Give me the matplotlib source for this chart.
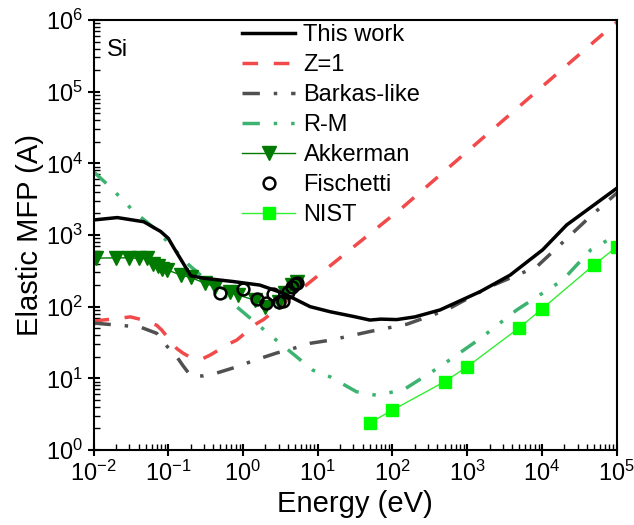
import matplotlib
matplotlib.use("Agg")
import matplotlib.pyplot as plt
from matplotlib.ticker import FixedLocator, NullFormatter, LogFormatterSciNotation

plt.rcParams['font.family'] = ['Liberation Sans', 'DejaVu Sans']
plt.rcParams['mathtext.fontset'] = 'custom'
plt.rcParams['mathtext.rm'] = 'Liberation Sans'

# This work
this_E = [0.01, 0.0208, 0.047, 0.079, 0.1, 0.12, 0.2, 0.3, 0.74, 1.68, 3.5, 7.9, 14.6, 30, 50, 70, 114, 200, 433, 1490, 3740, 10200, 21400, 100000]
this_y = [1620, 1750, 1530, 1120, 900, 650, 270, 249, 224, 200, 153, 100, 85, 73, 65, 67, 66, 72, 90, 162, 275, 620, 1380, 4480]

# Z=1
z1_E = [0.01, 0.02, 0.031, 0.05, 0.07, 0.082, 0.13, 0.159, 0.2, 0.295, 0.36, 0.67, 0.82, 1.52, 1.88, 140, 90000, 100000]
z1_y = [63, 68, 72, 64, 55, 47, 26, 22.3, 19.5, 19, 21, 30.8, 34, 58, 66, 2480, 850000, 930000]

# Barkas-like
bk_E = [0.01, 0.011, 0.042, 0.07, 0.105, 0.13, 0.159, 0.2, 0.295, 0.44, 0.83, 1.37, 2.8, 4.26, 7.9, 14.6, 50, 157, 530, 2000, 8500, 44000, 100000]
bk_y = [58, 58.5, 52, 42.5, 25, 20, 14.8, 10.8, 10.8, 11.8, 14.5, 17.6, 22.5, 25.3, 30.8, 34, 45, 57, 90, 190, 360, 1800, 3840]

# R-M
rm_E = [0.01, 0.0166, 0.035, 0.07, 0.19, 0.82, 2.8, 8.6, 14.6, 33, 61, 140, 430, 1500, 4600, 19000, 45000, 100000]
rm_y = [7650, 4700, 2110, 1170, 380, 100, 34, 13, 10.5, 6.5, 5.8, 6.9, 14.5, 36, 90, 235, 620, 1000]

# Akkerman
ak_E = [0.0107, 0.0198, 0.030, 0.041, 0.052, 0.063, 0.073, 0.083, 0.097, 0.149, 0.199,
        0.31, 0.42, 0.67, 0.87, 1.44, 1.96, 3.0, 3.6, 4.5, 5.2]
ak_y = [475, 480, 480, 470, 470, 400, 370, 340, 325, 275, 256,
        212, 190, 162, 145, 123, 100, 117, 153, 200, 224]

# Fischetti
fi_E = [0.49, 0.99, 1.53, 2.04, 2.55, 3.0, 3.45, 4.0, 4.5, 4.9, 5.2]
fi_y = [154, 175, 126, 113, 149, 115, 121, 162, 190, 207, 215]

# NIST
ni_E = [50, 100, 500, 1000, 5000, 10000, 50000, 100000]
ni_y = [2.4, 3.6, 9.0, 14.5, 51, 93, 385, 680]

x_decades = list(range(-2, 6))
y_decades = list(range(0, 7))

fig = plt.figure(figsize=(6.34, 5.25), dpi=100)
ax = fig.add_axes([0.1475, 0.1429, 0.9727 - 0.1475, 0.9619 - 0.1429])

ax.plot(this_E, this_y, color='black', lw=2.5, label='This work', zorder=5)
ax.plot(z1_E, z1_y, color='#f24a4a', lw=2.5, dashes=(4.5, 4.5), label='Z=1')
ax.plot(bk_E, bk_y, color='#505050', lw=2.5, dashes=(5, 4, 1, 4), label='Barkas-like')
ax.plot(rm_E, rm_y, color='#3cb371', lw=2.5, dashes=(5, 4, 1, 4, 1, 4), label='R-M')
ax.plot(ak_E, ak_y, color='#007a00', lw=1, marker='v', ms=9.5, mec='#007a00', mfc='#007a00', label='Akkerman')
ax.plot(fi_E, fi_y, ls='none', marker='o', ms=8.5, mfc='none', mec='black', mew=1.8, label='Fischetti', zorder=6)
ax.plot(ni_E, ni_y, color='#33ee33', lw=1, marker='s', ms=8, mfc='#00ff00', mec='#00ff00', label='NIST')

ax.set_xscale('log')
ax.set_yscale('log')
ax.set_xlim(1e-2, 1e5)
ax.set_ylim(1, 1e6)

xmaj = [10.0 ** k for k in x_decades]
ymaj = [10.0 ** k for k in y_decades]
xmin = [m * 10.0 ** k for k in x_decades[:-1] for m in range(2, 10)]
ymin = [m * 10.0 ** k for k in y_decades[:-1] for m in range(2, 10)]
ax.xaxis.set_major_locator(FixedLocator(xmaj))
ax.yaxis.set_major_locator(FixedLocator(ymaj))
ax.xaxis.set_minor_locator(FixedLocator(xmin))
ax.yaxis.set_minor_locator(FixedLocator(ymin))
ax.xaxis.set_major_formatter(LogFormatterSciNotation())
ax.yaxis.set_major_formatter(LogFormatterSciNotation())
ax.xaxis.set_minor_formatter(NullFormatter())
ax.yaxis.set_minor_formatter(NullFormatter())

ax.tick_params(which='major', direction='inout', length=9, width=1.5, labelsize=17, pad=3)
ax.tick_params(which='minor', direction='in', length=4, width=1,
               labelbottom=False, labelleft=False)
ax.tick_params(top=False, right=False)
for s in ax.spines.values():
    s.set_linewidth(1.5)

ax.set_xlabel('Energy (eV)', fontsize=21, labelpad=3)
ax.set_ylabel('Elastic MFP (A)', fontsize=21, labelpad=1)
ax.text(0.025, 0.955, 'Si', transform=ax.transAxes, fontsize=17, va='top', ha='left')

leg = ax.legend(loc='upper left', bbox_to_anchor=(0.284, 0.99), frameon=False, fontsize=17,
                handlelength=2.25, handletextpad=0.35, labelspacing=0.34, borderaxespad=0.0,
                borderpad=0.0)

fig.savefig('out.png', dpi=100)
